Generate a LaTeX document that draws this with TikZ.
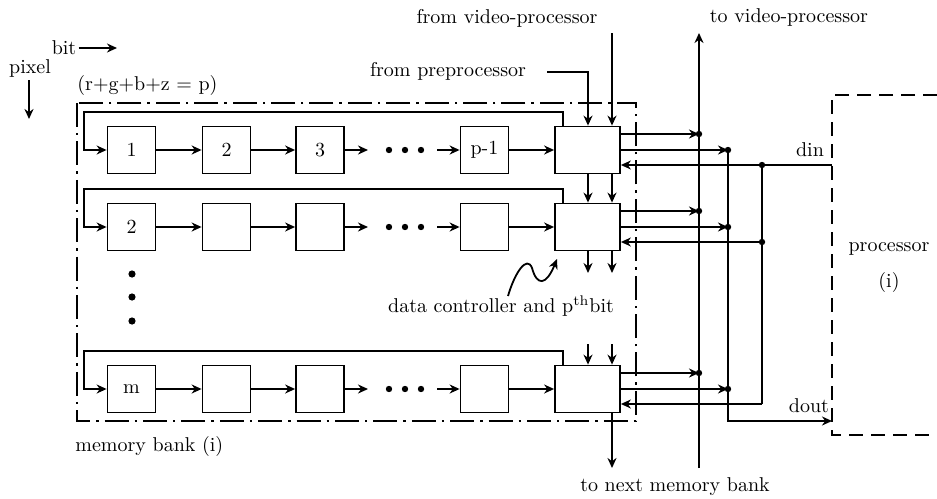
\documentclass[tikz,border=0pt]{standalone}
\usepackage{tikz}
\usetikzlibrary{arrows.meta, positioning, calc}
\tikzset{
	cell/.style   ={rectangle, draw=black, line width=0.9pt, minimum width=24pt, minimum height=23.5pt, inner sep=0pt},
	ctrl/.style   ={rectangle, draw=black, line width=0.9pt, minimum width=32.5pt, minimum height=23.5pt, inner sep=0pt},
	sig/.style    ={-{Stealth[length=5pt, width=4.5pt]}, line width=0.9pt},
	wire/.style   ={line width=0.9pt},
	% frames
	bankline/.style={line width=0.9pt, dash pattern=on 12pt off 3pt on 1.2pt off 3pt},
	procline/.style={line width=0.7pt, dash pattern=on 7pt off 4pt},
	lbl/.style    ={inner sep=1pt},
}

\begin{document}
\begin{tikzpicture}[x=0.5pt, y=-0.5pt]
	\useasboundingbox (0,0) rectangle (937,498);
	\node[lbl] (bit) at (64,48) {bit};
	\coordinate (bitend) at (117,48);
	\draw[sig] (bit.east) -- (bitend);
	\node[lbl] (pix) at (30,68) {pixel};
	\coordinate (pixtop) at (29,80);
	\coordinate (pixend) at (29,119);
	\draw[sig] (pixtop) -- (pixend);
	\node[lbl, anchor=west] (sum) at (75,85) {(r+g+b+z = p)};
	\draw[bankline] (77,103) rectangle (636,421);
	\node[lbl, anchor=west] (bank) at (73,446) {memory bank (i)};
	\foreach \r/\y/\a/\b/\c/\d in {1/150/1/2/3/p-1, 2/227/2/{}/{}/{}, 3/389/m/{}/{}/{}}{
		\node[cell] (c\r1) at (131.5,\y) {\a};
		\node[cell] (c\r2) at (226.5,\y) {\b};
		\node[cell] (c\r3) at (320,\y)   {\c};
		\node[cell] (c\r4) at (484.5,\y) {\d};
		\node[ctrl] (k\r)  at (587.5,\y) {};
		\coordinate (dl\r) at (368,\y);
		\coordinate (dr\r) at (437,\y);
		\draw[sig] (c\r1) -- (c\r2);
		\draw[sig] (c\r2) -- (c\r3);
		\draw[sig] (c\r3) -- (dl\r);
		\draw[sig] (dr\r) -- (c\r4);
		\draw[sig] (c\r4) -- (k\r);
		\foreach \dx in {389,405,421} \fill (\dx,\y) circle (1.6pt);
		\coordinate (lp\r) at (84,{\y-38});
		\draw[sig] ([xshift=4.5pt]k\r.north west) |- (lp\r) |- (c\r1);
		\coordinate (ua\r) at (699,{\y-16});
		\coordinate (ub\r) at (728,\y);
		\coordinate (uc\r) at (762,{\y+15});
		\draw[sig] (k\r.east |- ua\r) -- (ua\r);
		\draw[sig] (k\r.east) -- (ub\r);
		\draw[sig] (uc\r) -- (k\r.east |- uc\r);
		\fill (ua\r) circle (1.6pt);
		\fill (ub\r) circle (1.6pt);
	}
	\foreach \vy in {274,297,321} \fill (132,\vy) circle (1.8pt);
	\coordinate (xa) at (588,0);
	\coordinate (xb) at (612,0);
	\node[lbl] (fvp) at (507,18) {from video-processor};
	\coordinate (fvpin) at (612,33);
	\draw[sig] (fvpin) -- (k1.north -| xb);
	\node[lbl] (fpp) at (448,71) {from preprocessor};
	\coordinate (fppin) at (547,72);
	\draw[sig] (fppin) -| (k1.north -| xa);
	\draw[sig] (k1.south -| xa) -- (k2.north -| xa);
	\draw[sig] (k1.south -| xb) -- (k2.north -| xb);
	\coordinate (k2oa) at (588,273);
	\coordinate (k2ob) at (612,273);
	\draw[sig] (k2.south -| xa) -- (k2oa);
	\draw[sig] (k2.south -| xb) -- (k2ob);
	\coordinate (k3ia) at (588,344);
	\coordinate (k3ib) at (612,344);
	\draw[sig] (k3ia) -- (k3.north -| xa);
	\draw[sig] (k3ib) -- (k3.north -| xb);
	\coordinate (nxt) at (612,468);
	\draw[sig] (k3.south -| xb) -- (nxt);
	\node[lbl] (tnm) at (675,487) {to next memory bank};
	\node[lbl] (dc) at (501,306) {data controller and p$^{\mathrm{th}}$bit};
	\coordinate (wvs) at (508,296);
	\coordinate (wve) at (557,259);
	\draw[sig] (wvs) .. controls (515,272) and (527,255) .. (532,268) .. controls (537,286) and (546,286) .. (wve);
	\node[lbl] (tvp) at (789,18) {to video-processor};
	\coordinate (vtop) at (699,33);
	\coordinate (vbot) at (699,468);
	\draw[sig] (vbot) -- (vtop);
	\draw[procline] (937,95) -| (832,435) -- (937,435);
	\node[lbl, align=center] (proc) at (889,268) {processor\\[6pt](i)};
	\coordinate (din) at (832,165);
	\coordinate (dout) at (832,421);
	\coordinate (ubend) at (728,421);
	\draw[wire] (din) -- (uc1);
	\draw[wire] (uc1) -- (uc3);
	\fill (uc1) circle (1.6pt);
	\fill (uc2) circle (1.6pt);
	\draw[sig] (ub1) -- (ubend) -- (dout);
	\node[lbl] (dinl) at (810,150) {din};
	\node[lbl] (doutl) at (809,406) {dout};
\end{tikzpicture}
\end{document}
